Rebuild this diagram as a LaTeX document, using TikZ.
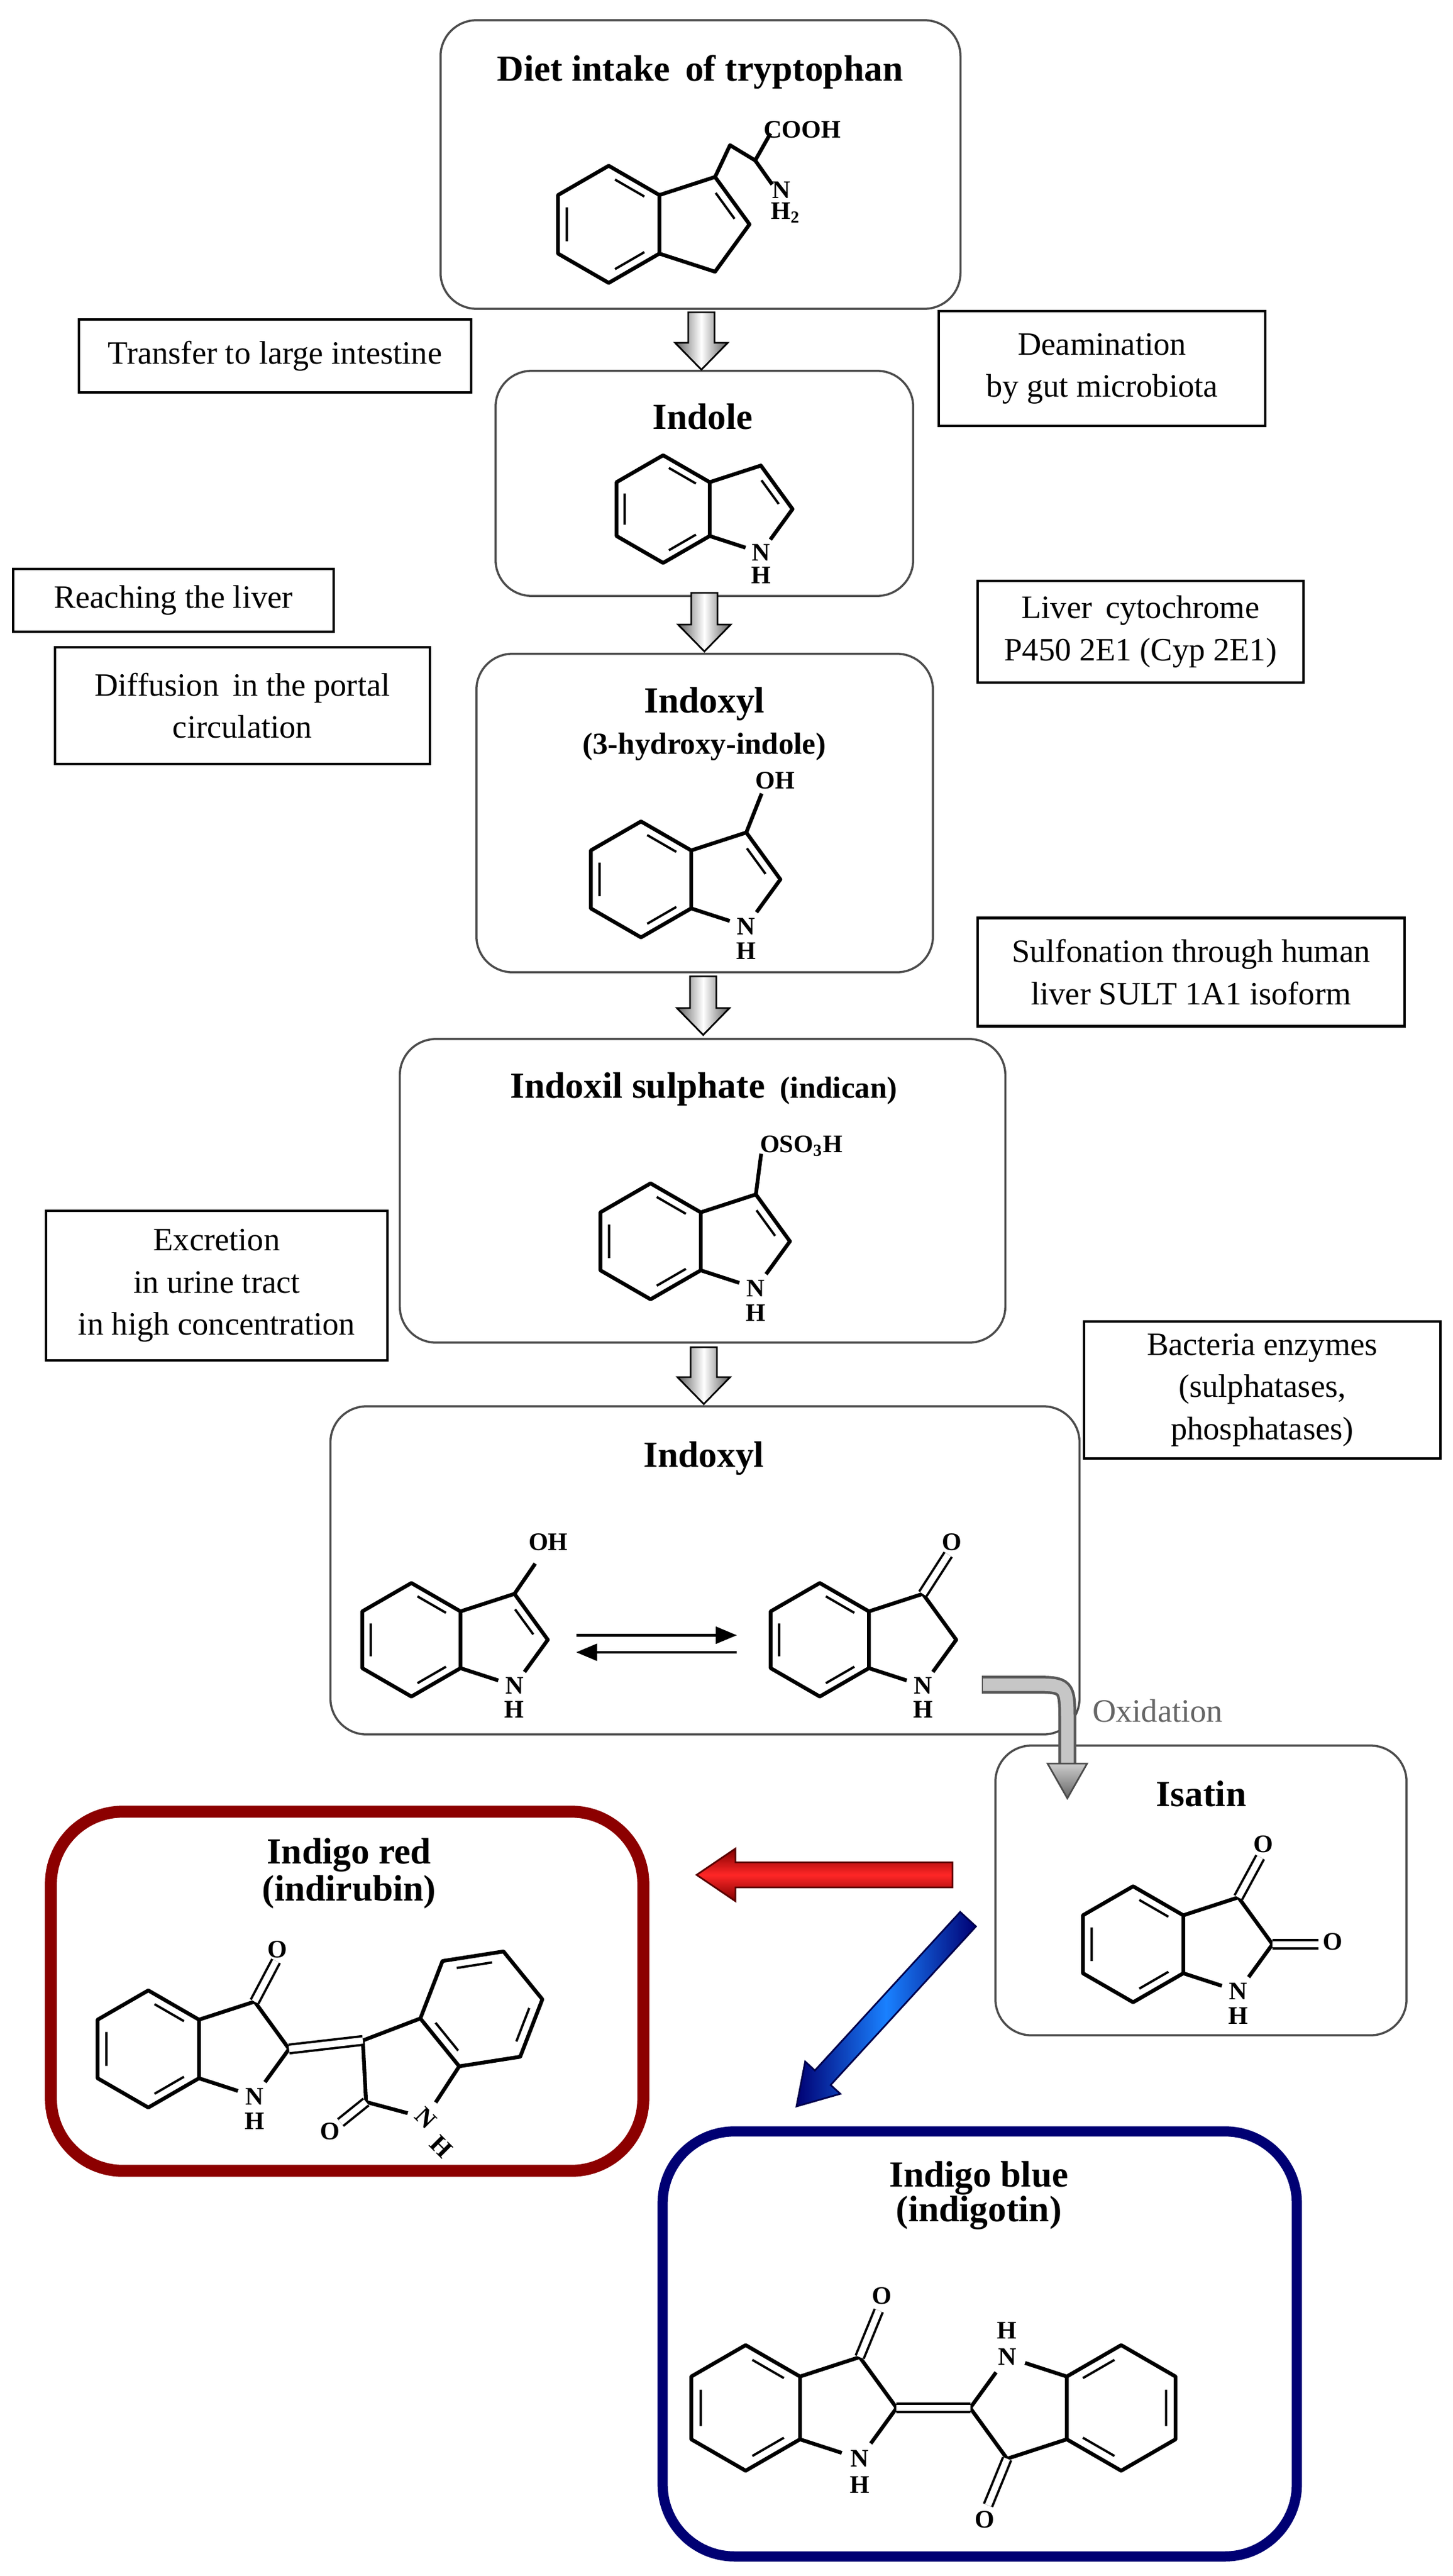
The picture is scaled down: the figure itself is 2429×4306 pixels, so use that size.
\documentclass[tikz,border=0pt]{standalone}
\usepackage{fontspec}
\setmainfont{Liberation Serif}
\usetikzlibrary{calc,arrows.meta}
\newcommand\molcoords{%
 \coordinate (b1) at (0,1); \coordinate (b2) at (-0.866,0.5); \coordinate (b3) at (-0.866,-0.5);
 \coordinate (b4) at (0,-1); \coordinate (c7a) at (0.866,-0.5); \coordinate (c3a) at (0.866,0.5);
 \coordinate (c3) at (1.817,0.809); \coordinate (c2) at (2.405,0); \coordinate (n1) at (1.817,-0.809);
 \coordinate (nh) at (1.817,-1.23);
 \coordinate (i1) at (0.107,0.765); \coordinate (i2) at (0.609,0.475); \coordinate (i3) at (-0.716,0.29);
 \coordinate (i4) at (-0.716,-0.29); \coordinate (i5) at (0.107,-0.765); \coordinate (i6) at (0.609,-0.475);
 \coordinate (d1) at (1.828,0.536); \coordinate (d2) at (2.149,0.095);}
\newcommand\benzring{\draw[bond] (b1)--(b2)--(b3)--(b4)--(c7a)--(c3a)--cycle;
 \draw[ibond] (i1)--(i2) (i3)--(i4) (i5)--(i6);}
\newcommand\pyrrol{\draw[bond] (c3a)--(c3)--(c2)--($(c2)!0.7!(n1)$); \draw[bond] (c7a)--($(c7a)!0.7!(n1)$);}
\newcommand\dblC{\draw[ibond] (d1)--(d2);}
\newcommand\NH{\node[atom] at (n1) {N}; \node[atom] at (nh) {H};}
\newcommand\innerbond[3]{\coordinate (tmpa) at ($(#2)!0.15!(#3)$); \coordinate (tmpb) at ($(#3)!0.15!(#2)$);
 \draw[ibond] ($(#1)!0.83!(tmpa)$) -- ($(#1)!0.83!(tmpb)$);}
\newcommand\grayarrow[3]{\shade[left color=gray!75!black,right color=gray!75!black,middle color=white,draw=black,line width=0.8pt]
 (#1-22,#2) -- (#1+22,#2) -- (#1+22,#3-45) -- (#1+44,#3-45) -- (#1,#3) -- (#1-44,#3-45) -- (#1-22,#3-45) -- cycle;}
\begin{document}
\begin{tikzpicture}[x=0.01cm,y=-0.01cm,
 bond/.style={line width=1.8pt,line join=round},
 ibond/.style={line width=1.1pt},
 dbond/.style={line width=1.1pt,double,double distance=3pt},
 atom/.style={font=\bfseries\fontsize{12}{13}\selectfont,inner sep=0pt},
 ttl/.style={font=\bfseries\fontsize{17.5}{20}\selectfont,inner sep=0pt},
 sub/.style={font=\bfseries\fontsize{14.5}{17}\selectfont,inner sep=0pt},
 lbl/.style={draw=black,line width=1.2pt,align=center,inner sep=0pt,font=\fontsize{15.5}{20}\selectfont},
 rbox/.style={draw=gray!60!black,line width=1pt,rounded corners=0.6cm},
]
\useasboundingbox (0,0) rectangle (2429,4306);
% ---------- main boxes
\node[rbox,minimum width=8.69cm,minimum height=4.82cm] (trp) at (1171.5,275) {};
\node[rbox,minimum width=6.98cm,minimum height=3.76cm] (ind) at (1178,808) {};
\node[rbox,minimum width=7.63cm,minimum height=5.32cm] (ixl) at (1178.5,1359) {};
\node[rbox,minimum width=10.12cm,minimum height=5.07cm] (ics) at (1175,1990.5) {};
\node[rbox,minimum width=12.52cm,minimum height=5.48cm] (ixl2) at (1179,2625) {};
\node[rbox,minimum width=6.87cm,minimum height=4.84cm] (isa) at (2008.5,3160) {};
\node[draw=red!55!black,line width=0.2cm,rounded corners=1.2cm,minimum width=9.9cm,minimum height=6.0cm] (red) at (580.5,3328.5) {};
\node[draw=blue!45!black,line width=0.17cm,rounded corners=1.2cm,minimum width=10.6cm,minimum height=7.1cm] (blue) at (1638.5,3918) {};
% ---------- titles
\node[ttl] at (1171,120) {Diet intake\, of tryptophan};
\node[ttl] at (1175,696) {Indole};
\node[ttl] at (1178,1177) {Indoxyl};
\node[sub] at (1178,1248) {(3-hydroxy-indole)};
\node[ttl] at (1177,1821) {Indoxil sulphate\, {\fontsize{14.5}{17}\selectfont(indican)}};
\node[ttl] at (1177,2438) {Indoxyl};
\node[ttl] at (2009,2998) {Isatin};
\node[ttl] at (584,3101) {Indigo red};
\node[ttl] at (584,3163) {(indirubin)};
\node[ttl] at (1637,3641) {Indigo blue};
\node[ttl] at (1637,3699) {(indigotin)};
% ---------- side labels
\node[lbl,minimum width=6.56cm,minimum height=1.22cm] (transfer) at (460,595) {Transfer to large intestine};
\node[lbl,minimum width=5.46cm,minimum height=1.92cm] (deam) at (1843,616) {Deamination\\by gut microbiota};
\node[lbl,minimum width=5.36cm,minimum height=1.05cm] (reach) at (290,1003.5) {Reaching the liver};
\node[lbl,minimum width=6.27cm,minimum height=1.95cm] (diff) at (405.5,1179.5) {Diffusion\, in the portal\\circulation};
\node[lbl,minimum width=5.45cm,minimum height=1.70cm] (cyp) at (1907.5,1056) {Liver\, cytochrome\\P450 2E1 (Cyp 2E1)};
\node[lbl,minimum width=7.14cm,minimum height=1.81cm] (sult) at (1992,1625) {Sulfonation through human\\liver SULT 1A1 isoform};
\node[lbl,minimum width=5.71cm,minimum height=2.50cm] (excr) at (362.5,2149) {Excretion\\in urine tract\\in high concentration};
\node[lbl,minimum width=5.96cm,minimum height=2.29cm] (bact) at (2111,2323.5) {Bacteria enzymes\\(sulphatases,\\phosphatases)};
% ---------- gray arrows
\grayarrow{1173}{522}{618}
\grayarrow{1178}{991}{1089}
\grayarrow{1176}{1632}{1730}
\grayarrow{1177}{2252}{2347}
% ---------- tryptophan
\begin{scope}[shift={(1018,375)},yscale=-1,scale=98]
 \molcoords \benzring
 \draw[bond] (c3a)--(c3)--(c2)--(n1)--(c7a); \dblC
 \draw[bond] (c3)--(2.07,1.35)--(2.5,1.09)--(2.76,1.55);
 \draw[bond] (2.5,1.09)--(2.79,0.68);
 \node[atom,anchor=west] at (2.64,1.62) {COOH};
 \node[atom] at (2.95,0.58) {N};
 \node[atom] at (3.02,0.2) {H$_{\mathbf 2}$};
\end{scope}
% ---------- indole
\begin{scope}[shift={(1109,851)},yscale=-1,scale=90]
 \molcoords \benzring \pyrrol \dblC \NH
\end{scope}
% ---------- indoxyl (3-hydroxy-indole)
\begin{scope}[shift={(1072,1470)},yscale=-1,scale=97]
 \molcoords \benzring \pyrrol \dblC \NH
 \draw[bond] (c3)--(2.08,1.48);
 \node[atom] at (2.31,1.70) {OH};
\end{scope}
% ---------- indican
\begin{scope}[shift={(1088,2075)},yscale=-1,scale=97]
 \molcoords \benzring \pyrrol \dblC \NH
 \draw[bond] (c3)--(1.907,1.51);
 \node[atom,anchor=west] at (1.88,1.64) {OSO$_{\mathbf 3}$H};
\end{scope}
% ---------- indoxyl enol / keto
\begin{scope}[shift={(688,2741)},yscale=-1,scale=95]
 \molcoords \benzring \pyrrol \dblC \NH
 \draw[bond] (c3)--(2.18,1.34);
 \node[atom] at (2.41,1.72) {OH};
 \coordinate (eqA) at (2.9,0.08); \coordinate (eqB) at (2.9,-0.22);
\end{scope}
\begin{scope}[shift={(1371,2741)},yscale=-1,scale=95]
 \molcoords \benzring \pyrrol \NH
 \draw[dbond] (c3)--(2.26,1.5);
 \node[atom] at (2.32,1.72) {O};
 \coordinate (eqC) at (-1.46,0.08); \coordinate (eqD) at (-1.46,-0.22);
\end{scope}
\draw[line width=1.2pt,-{Triangle[length=10pt,width=8pt]}] (eqA) -- (eqC);
\draw[line width=1.2pt,-{Triangle[length=10pt,width=8pt]}] (eqD) -- (eqB);
% ---------- oxidation arrow
\coordinate (ox0) at (1642,2816); \coordinate (ox1) at (1725,2816);
\coordinate (ox2) at (1785,2880); \coordinate (ox3) at (1785,2950);
\draw[line width=0.3cm,black!65] (ox0) -- (ox1) .. controls (1785,2816) .. (ox2) -- (ox3);
\draw[line width=0.21cm,gray!45] ([xshift=0.5pt]ox0) -- (ox1) .. controls (1785,2816) .. (ox2) -- ([yshift=-2pt]ox3);
\shade[top color=gray!40,bottom color=gray!80!black,draw=black!70,line width=0.8pt] (1752,2948) -- (1818,2948) -- (1785,3006) -- cycle;
\node[font=\fontsize{15.5}{18}\selectfont,text=gray!80!black] at (1936,2860) {Oxidation};
% ---------- isatin
\begin{scope}[shift={(1895,3250)},yscale=-1,scale=97]
 \molcoords \benzring \pyrrol \NH
 \draw[dbond] (c3)--(2.19,1.5);
 \node[atom] at (2.25,1.72) {O};
 \draw[dbond] (c2)--(3.2,0);
 \node[atom] at (3.44,0.04) {O};
\end{scope}
% ---------- red and blue arrows
\shade[top color=red!50!black,bottom color=red!50!black,middle color=red!85!white,draw=red!35!black,line width=0.8pt]
 (1165,3134) -- (1230,3090) -- (1230,3113) -- (1593,3113) -- (1593,3155) -- (1230,3155) -- (1230,3178) -- cycle;
\shade[left color=blue!45!black,right color=blue!45!black,middle color=blue!55!cyan!90!white,draw=blue!30!black,line width=0.8pt]
 (1332,3521) -- (1405.4,3500) -- (1389.2,3485.2) -- (1632.2,3220.2) -- (1605.8,3195.9) -- (1362.8,3460.9) -- (1346.6,3446) -- cycle;
% ---------- indirubin (left unit)
\begin{scope}[shift={(248,3425)},yscale=-1,scale=98]
 \molcoords \benzring \pyrrol \NH
 \draw[dbond] (c3)--(2.18,1.5);
 \node[atom] at (2.2,1.70) {O};
 \coordinate (L2) at (c2);
\end{scope}
% ---------- indirubin (right unit, oxindole)
\coordinate (rc) at (805,3358);
\coordinate (r3a) at (703,3374); \coordinate (r4) at (740,3278); \coordinate (r5) at (842,3262);
\coordinate (r6) at (907,3342); \coordinate (r7) at (870,3438); \coordinate (r7a) at (768,3454);
\coordinate (r3) at (606.8,3410.8); \coordinate (r2) at (612.2,3513.6); \coordinate (rn) at (711.7,3540.3);
\draw[bond] (r3a)--(r4)--(r5)--(r6)--(r7)--(r7a)--cycle;
\innerbond{rc}{r4}{r5} \innerbond{rc}{r6}{r7} \innerbond{rc}{r7a}{r3a}
\draw[bond] (r3a)--(r3)--(r2)--($(r2)!0.7!(rn)$);
\draw[bond] (r7a)--($(r7a)!0.7!(rn)$);
\draw[dbond] (r2)--(569.5,3548);
\node[atom] at (552,3563) {O};
\node[atom,rotate=-45] at (rn) {N};
\node[atom,rotate=-45] at (738,3588) {H};
\draw[dbond] (L2) -- (r3);
% ---------- indigo
\begin{scope}[shift={(1247,4025)},yscale=-1,scale=105]
 \molcoords \benzring \pyrrol \NH
 \draw[dbond] (c3)--(2.12,1.55);
 \node[atom] at (2.17,1.78) {O};
 \coordinate (L2) at (c2);
\end{scope}
\begin{scope}[shift={(1875,4025)},yscale=-1,scale=105,rotate=180]
 \molcoords \benzring \pyrrol \NH
 \draw[dbond] (c3)--(2.12,1.55);
 \node[atom] at (2.17,1.78) {O};
 \coordinate (R2) at (c2);
\end{scope}
\draw[dbond] (L2) -- (R2);
\end{tikzpicture}
\end{document}
